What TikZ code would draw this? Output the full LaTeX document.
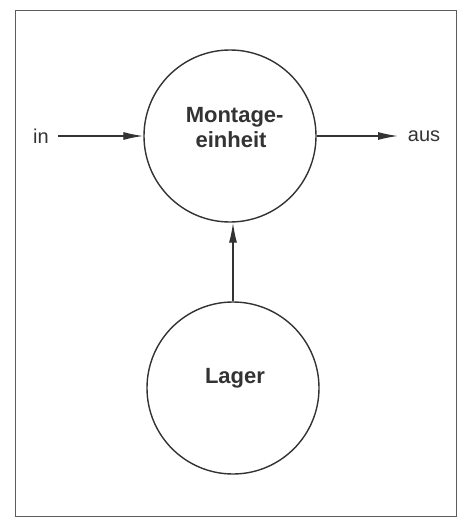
\documentclass[tikz,border=0pt]{standalone}
\usepackage{fontspec}
\setmainfont{Liberation Sans}
\usetikzlibrary{arrows.meta}
\definecolor{ink}{HTML}{333333}
\begin{document}
\begin{tikzpicture}[x=1pt,y=-1pt,
  station/.style={circle,draw=ink,line width=1.4pt,minimum size=172pt,inner sep=0pt},
  boldlabel/.style={font=\bfseries\fontsize{22}{25}\selectfont,text=ink,align=center,inner sep=0pt},
  flowlabel/.style={font=\fontsize{20}{24}\selectfont,text=ink,inner sep=0pt},
  flow/.style={draw=ink,line width=1.3pt,-{Latex[length=20pt,width=8pt]}}]
  % page frame
  \useasboundingbox (0,0) rectangle (466,519);
  \draw[draw=ink!80,line width=0.8pt] (15,10) rectangle (456,516);
  % stations
  \node[station] (montage) at (230,136) {};
  \node[boldlabel] (montagetext) at (231,128) {Montage\rlap{-}\\einheit};
  \node[station] (lager) at (233,388) {};
  \node[boldlabel] (lagertext) at (235,378) {Lager};
  % inflow and outflow labels
  \node[flowlabel,anchor=base] (in) at (41,143) {in};
  \node[flowlabel,anchor=base] (aus) at (424,141) {aus};
  \coordinate (instart) at (58,136);
  \coordinate (ausend) at (398,136);
  % material flow
  \draw[flow] (instart) -- (montage.west);
  \draw[flow] (montage.east) -- (ausend);
  \draw[flow] (lager.north) -- (lager.north |- montage.south);
\end{tikzpicture}
\end{document}
